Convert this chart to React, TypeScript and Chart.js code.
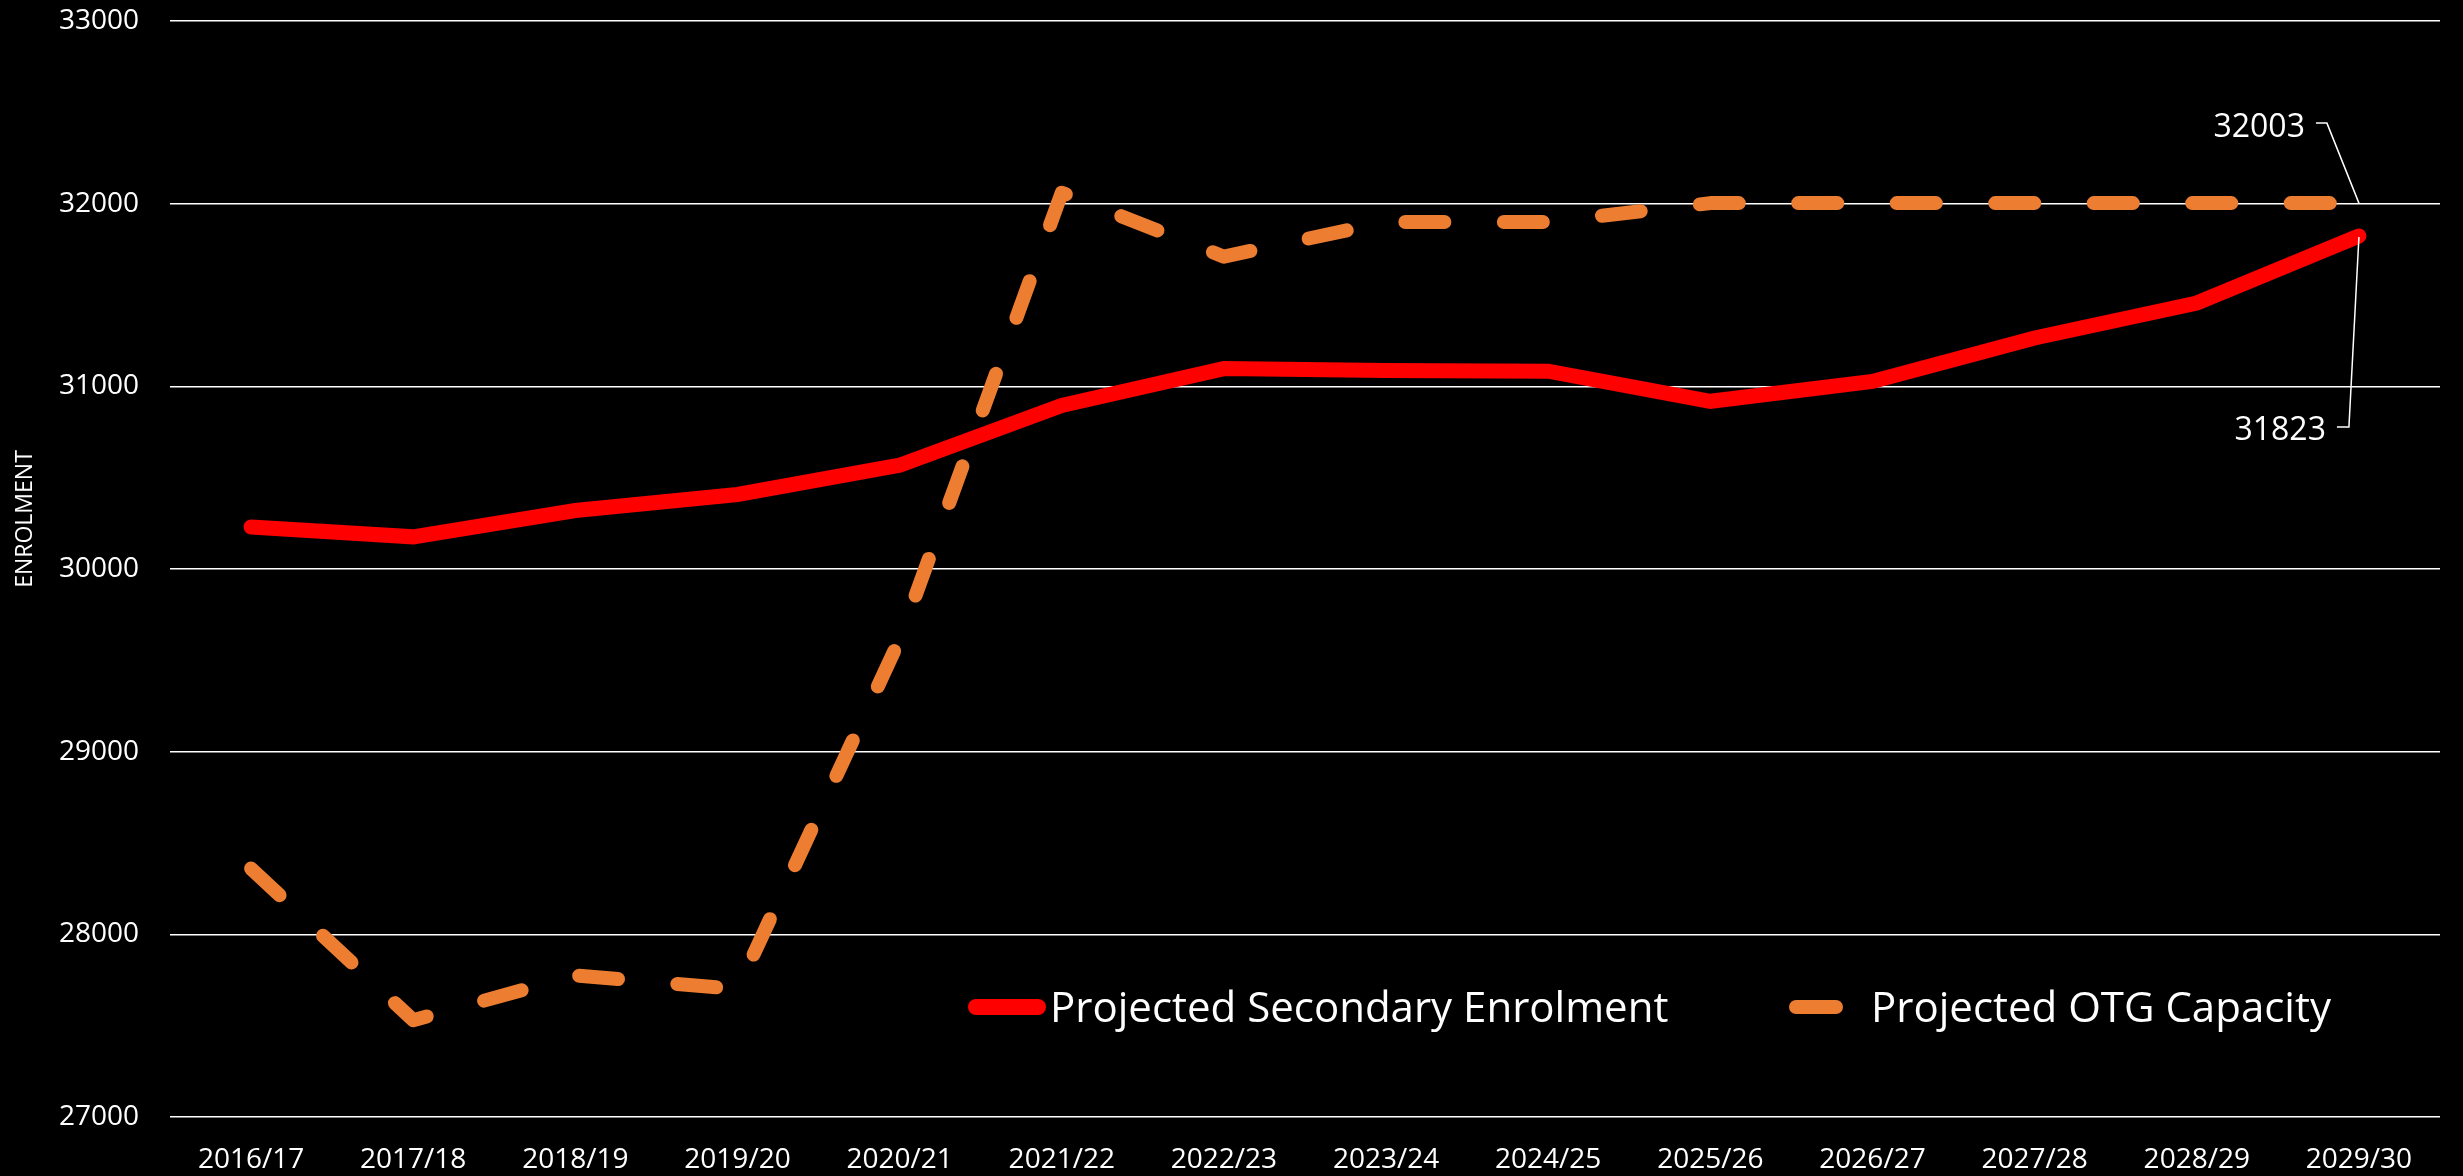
import React, { useEffect, useRef } from 'react';
import { Chart, registerables } from 'chart.js';

Chart.register(...registerables);

const categories = [
  '2016/17', '2017/18', '2018/19', '2019/20', '2020/21', '2021/22', '2022/23',
  '2023/24', '2024/25', '2025/26', '2026/27', '2027/28', '2028/29', '2029/30',
];
const enrolment = [30230, 30176, 30320, 30408, 30568, 30895, 31097, 31086, 31083, 30918, 31027, 31265, 31456, 31823];
const capacity = [28360, 27530, 27775, 27700, 29615, 32060, 31710, 31900, 31900, 32003, 32003, 32003, 32003, 32003];
const seriesLabels = ['Projected Secondary Enrolment', 'Projected OTG Capacity'];
const yMin = 27000;
const yMax = 33000;
const yStep = 1000;
const axisTitle = 'ENROLMENT';

const FONT = "'Open Sans', sans-serif";
const RED = '#FF0000';
const ORANGE = '#ED7D31';

const titlePlugin = {
  id: 'axisTitle',
  afterDraw(chart: any) {
    const ctx = chart.ctx;
    ctx.save();
    ctx.translate(32, 519);
    ctx.rotate(-Math.PI / 2);
    ctx.fillStyle = '#ffffff';
    ctx.font = `23px ${FONT}`;
    ctx.textAlign = 'center';
    ctx.textBaseline = 'alphabetic';
    ctx.fillText(axisTitle, 0, 0);
    ctx.restore();
  },
};

const legendPlugin = {
  id: 'insideLegend',
  afterDraw(chart: any) {
    const ctx = chart.ctx;
    const ds = chart.data.datasets;
    const y = 1007;
    ctx.save();
    ctx.font = `42px ${FONT}`;
    ctx.fillStyle = '#ffffff';
    ctx.textAlign = 'left';
    ctx.textBaseline = 'alphabetic';
    ctx.lineCap = 'round';
    ctx.strokeStyle = ds[0].borderColor;
    ctx.lineWidth = 16;
    ctx.beginPath();
    ctx.moveTo(976, y);
    ctx.lineTo(1038, y);
    ctx.stroke();
    ctx.fillText(ds[0].label, 1050, 1022);
    ctx.strokeStyle = ds[1].borderColor;
    ctx.lineWidth = 14;
    ctx.beginPath();
    ctx.moveTo(1796, y);
    ctx.lineTo(1836, y);
    ctx.stroke();
    ctx.fillText(ds[1].label, 1871, 1022);
    ctx.restore();
  },
};

const endLabelPlugin = {
  id: 'endLabels',
  afterDatasetsDraw(chart: any) {
    const ctx = chart.ctx;
    const last = categories.length - 1;
    const pCap = chart.getDatasetMeta(1).data[last];
    const pEnr = chart.getDatasetMeta(0).data[last];
    ctx.save();
    ctx.strokeStyle = '#ffffff';
    ctx.lineWidth = 1.5;
    ctx.fillStyle = '#ffffff';
    ctx.font = `32px ${FONT}`;
    ctx.textAlign = 'right';
    ctx.textBaseline = 'alphabetic';
    ctx.beginPath();
    ctx.moveTo(pCap.x, pCap.y);
    ctx.lineTo(pCap.x - 32, pCap.y - 80);
    ctx.lineTo(pCap.x - 43, pCap.y - 80);
    ctx.stroke();
    ctx.fillText(String(capacity[last]), pCap.x - 54, pCap.y - 66);
    ctx.beginPath();
    ctx.moveTo(pEnr.x, pEnr.y + 1);
    ctx.lineTo(pEnr.x - 10, pEnr.y + 191);
    ctx.lineTo(pEnr.x - 22, pEnr.y + 191);
    ctx.stroke();
    ctx.fillText(String(enrolment[last]), pEnr.x - 33, pEnr.y + 204);
    ctx.restore();
  },
};

export default function App() {
  const ref = useRef<HTMLCanvasElement>(null);

  useEffect(() => {
    document.body.style.margin = '0';
    document.body.style.background = '#000000';
    const canvas = ref.current!;
    const chart = new Chart(canvas, {
      type: 'line',
      data: {
        labels: categories,
        datasets: [
          {
            label: seriesLabels[0],
            data: enrolment,
            borderColor: RED,
            backgroundColor: RED,
            borderWidth: 15,
            borderCapStyle: 'round',
            borderJoinStyle: 'miter',
            pointRadius: 0,
            tension: 0,
            fill: false,
            order: 1,
          },
          {
            label: seriesLabels[1],
            data: capacity,
            borderColor: ORANGE,
            backgroundColor: ORANGE,
            borderWidth: 14,
            borderDash: [39, 59.5],
            borderCapStyle: 'round',
            borderJoinStyle: 'round',
            pointRadius: 0,
            tension: 0,
            fill: false,
            order: 0,
          },
        ],
      },
      options: {
        responsive: false,
        animation: false,
        devicePixelRatio: 1,
        layout: { padding: { left: 0, right: 23, top: 21, bottom: 0 } },
        plugins: {
          legend: { display: false },
          tooltip: { enabled: false },
          title: { display: false },
        },
        scales: {
          x: {
            type: 'category',
            offset: true,
            grid: { display: false, drawTicks: false },
            border: { display: false },
            ticks: {
              color: '#ffffff',
              font: { family: FONT, size: 28 },
              padding: 26,
              maxRotation: 0,
              autoSkip: false,
            },
            afterFit: (scale: any) => {
              scale.height = 59;
              scale.paddingLeft = 0;
              scale.paddingRight = 0;
            },
          },
          y: {
            min: yMin,
            max: yMax,
            grid: { color: '#ffffff', lineWidth: 1.5, drawTicks: false },
            border: { display: false },
            ticks: {
              stepSize: yStep,
              color: '#ffffff',
              font: { family: FONT, size: 28 },
              padding: 31,
              callback: (v: any) => String(v),
            },
            afterFit: (scale: any) => {
              scale.width = 170;
              scale.paddingTop = 0;
              scale.paddingBottom = 0;
            },
          },
        },
      },
      plugins: [titlePlugin, endLabelPlugin, legendPlugin],
    });
    return () => chart.destroy();
  }, []);

  return (
    <div style={{ width: 2463, height: 1176, background: '#000000' }}>
      <canvas ref={ref} width={2463} height={1176} style={{ display: 'block', width: 2463, height: 1176 }} />
    </div>
  );
}
